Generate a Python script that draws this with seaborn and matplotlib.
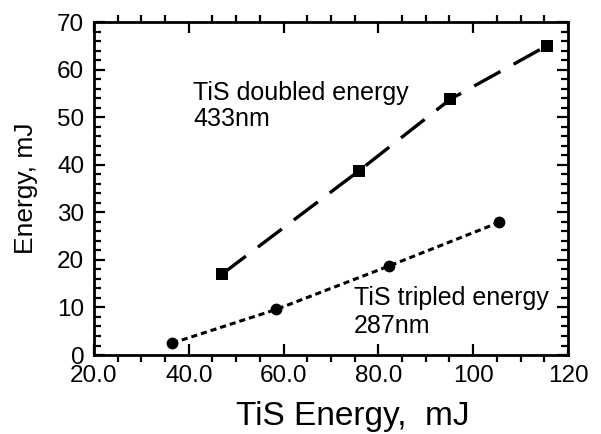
import matplotlib
matplotlib.use("Agg")
import matplotlib.pyplot as plt
from matplotlib.ticker import MultipleLocator, FixedLocator, FixedFormatter
import seaborn as sns
import pandas as pd

# Second harmonic (433 nm) output vs. TiS pump energy
doubled_pump = [47.0, 76.0, 95.2, 115.5]
doubled_energy = [17.0, 38.8, 53.8, 65.0]

# Third harmonic (287 nm) output vs. TiS pump energy
tripled_pump = [36.5, 58.5, 82.2, 105.5]
tripled_energy = [2.5, 9.6, 18.7, 27.9]

x_ticks = [20, 40, 60, 80, 100, 120]
x_tick_labels = ["20.0", "40.0", "60.0", "80.0", "100", "120"]
y_ticks = [0, 10, 20, 30, 40, 50, 60, 70]

sns.set_style("white")
plt.rcParams["font.family"] = ["Liberation Sans", "DejaVu Sans"]
plt.rcParams["text.color"] = "black"
plt.rcParams["axes.labelcolor"] = "black"

doubled = pd.DataFrame({"pump": doubled_pump, "energy": doubled_energy})
tripled = pd.DataFrame({"pump": tripled_pump, "energy": tripled_energy})

fig = plt.figure(figsize=(6.01, 4.34), dpi=100)
ax = fig.add_axes([0.1564, 0.182, 0.7886, 0.767])

sns.lineplot(data=doubled, x="pump", y="energy", ax=ax, sort=False,
             color="black", linewidth=2.4, linestyle=(0, (9, 4.5)),
             marker="s", markersize=9, markeredgewidth=0)
sns.lineplot(data=tripled, x="pump", y="energy", ax=ax, sort=False,
             color="black", linewidth=2.2, linestyle=(0, (2.0, 1.3)),
             marker="o", markersize=8.5, markeredgewidth=0)

ax.set_xlim(20, 120)
ax.set_ylim(0, 70)
ax.xaxis.set_major_locator(FixedLocator(x_ticks))
ax.xaxis.set_major_formatter(FixedFormatter(x_tick_labels))
ax.xaxis.set_minor_locator(MultipleLocator(5))
ax.yaxis.set_major_locator(FixedLocator(y_ticks))
ax.yaxis.set_minor_locator(MultipleLocator(2))

ax.tick_params(axis="x", which="major", direction="in", length=8, width=1.6,
               top=True, bottom=True, labelsize=17.5, pad=7,
               colors="black", labelcolor="black")
ax.tick_params(axis="x", which="minor", direction="out", length=5, width=1.6,
               top=True, bottom=True, colors="black")
ax.tick_params(axis="y", which="major", direction="in", length=8, width=1.6,
               left=True, right=True, labelsize=17.5, pad=7,
               colors="black", labelcolor="black")
ax.tick_params(axis="y", which="minor", direction="in", length=5, width=1.6,
               left=True, right=True, colors="black")

for s in ax.spines.values():
    s.set_linewidth(2.0)
    s.set_color("black")

ax.set_xlabel("TiS Energy,  mJ", fontsize=24)
ax.xaxis.set_label_coords(0.546, -0.137)
ax.set_ylabel("Energy, mJ", fontsize=19)
ax.yaxis.set_label_coords(-0.118, 0.5)

ax.text(40.9, 53.6, "TiS doubled energy", fontsize=18, va="baseline")
ax.text(40.9, 48.1, "433nm", fontsize=18, va="baseline")
ax.text(74.8, 10.5, "TiS tripled energy", fontsize=18, va="baseline")
ax.text(74.8, 4.6, "287nm", fontsize=18, va="baseline")

fig.savefig("out.png", dpi=100)
